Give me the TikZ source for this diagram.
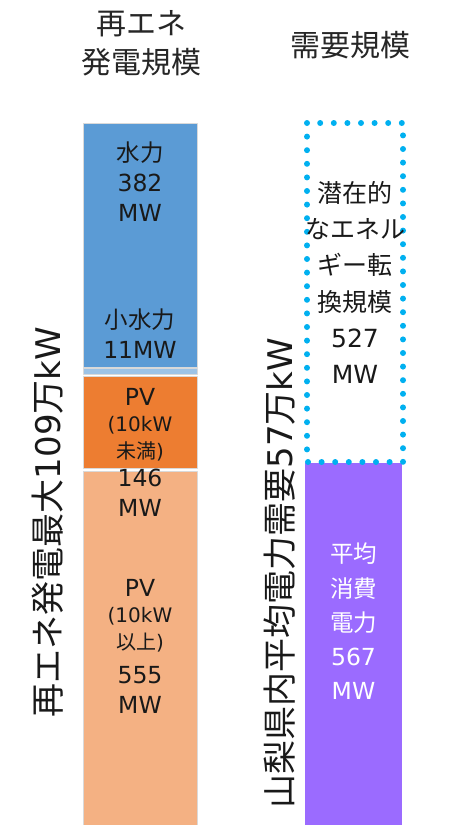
\documentclass[tikz,border=0pt]{standalone}
\usepackage{fontspec}
\newfontfamily\jp{Noto Sans CJK JP}
\newfontfamily\lat{DejaVu Sans}
\newcommand\latn[1]{{\lat #1}}
\definecolor{hydro}{HTML}{5B9BD5}
\definecolor{smallhydro}{HTML}{9DC3E6}
\definecolor{pvsmall}{HTML}{ED7D31}
\definecolor{pvlarge}{HTML}{F4B183}
\definecolor{demand}{HTML}{9B6BFF}
\definecolor{dotblue}{HTML}{00B0F0}
\begin{document}
\begin{tikzpicture}[line cap=butt,line join=round,x=1pt,y=-1pt,
  seg/.style={draw=black!15,line width=0.6pt},
  title/.style={align=center,inner sep=0pt,text=black!85,font=\jp\fontsize{30}{39}\selectfont},
  txt/.style={align=center,inner sep=0pt,text=black!90,font=\jp\fontsize{23.5}{30}\selectfont},
  sml/.style={align=center,inner sep=0pt,text=black!90,font=\jp\fontsize{20}{27}\selectfont},
  side/.style={inner sep=0pt,rotate=90,text=black!90,font=\jp\fontsize{34}{40}\selectfont}]

\useasboundingbox (0,0) rectangle (456,825);

\node[title] (ttlsupply) at (141,43) {再エネ\\発電規模};
\node[title] (ttldemand) at (350,45) {需要規模};

\fill[hydro,seg] (83,123) rectangle (197,367);
\fill[smallhydro,seg] (83,368) rectangle (197,374);
\fill[pvsmall,seg] (83,376) rectangle (197,468);
\fill[pvlarge,seg] (83,471) rectangle (197,830);

\fill[demand] (305,463) rectangle (402,830);
\draw[dotblue,line width=6pt,line cap=round,dash pattern=on 0pt off 13.6pt] (307,123) rectangle (403,462);

\node[txt] (hydrolbl) at (140,181.5) {水力\\\latn{382}\\\latn{MW}};
\node[txt] (shydrolbl) at (140,333.5) {小水力\\\latn{11MW}};
\node[txt] (pvslbl) at (140,397) {\latn{PV}};
\node[sml] (pvsnote) at (140,438.5) {\latn{(10kW}\\未満\latn{)}};
\node[txt] (pvsval) at (140,492.5) {\latn{146}\\\latn{MW}};
\node[txt] (pvllbl) at (140,588) {\latn{PV}};
\node[sml] (pvlnote) at (140,630) {\latn{(10kW}\\以上\latn{)}};
\node[txt] (pvlval) at (140,690) {\latn{555}\\\latn{MW}};

\node[txt,font=\jp\fontsize{25}{36.2}\selectfont] (potlbl) at (355,282.5) {潜在的\\なエネル\\ギー転\\換規模\\\latn{527}\\\latn{MW}};
\node[txt,text=white,font=\jp\fontsize{23.5}{34.3}\selectfont] (avglbl) at (353.5,621.5) {平均\\消費\\電力\\\latn{567}\\\latn{MW}};

\node[side] (supplymax) at (48,522) {再エネ発電最大\latn{109}万\latn{kW}};
\node[side] (demandavg) at (280,573) {山梨県内平均電力需要\latn{57}万\latn{kW}};
\end{tikzpicture}
\end{document}
